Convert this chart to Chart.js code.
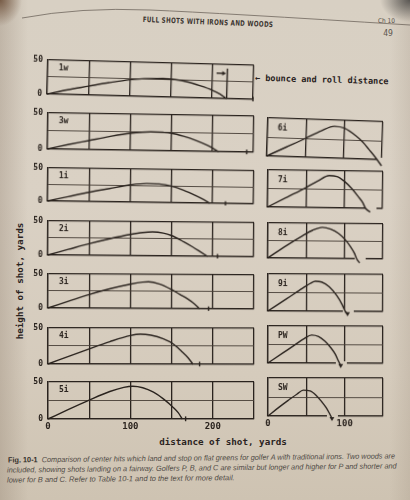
<!DOCTYPE html>
<html>
<head>
<meta charset="utf-8">
<title>Full shots with irons and woods</title>
<script src="https://cdn.jsdelivr.net/npm/chart.js@4.4.1/dist/chart.umd.min.js"></script>
<style>
  html, body { margin:0; padding:0; }
  body {
    width:410px; height:500px; overflow:hidden; position:relative;
    background:
      radial-gradient(ellipse 22px 26px at 0 0, rgba(95,62,38,.75), rgba(95,62,38,0)),
      radial-gradient(ellipse 30px 22px at 100% 0, rgba(70,68,66,.85), rgba(70,68,66,0)),
      linear-gradient(to right, rgba(130,112,95,.28), rgba(130,112,95,0) 28px),
      linear-gradient(to left, rgba(130,112,95,.15), rgba(130,112,95,0) 20px),
      linear-gradient(to bottom, #d8d0c3 0%, #dad1c4 40%, #d5cbbc 75%, #cec3b2 100%);
  }
  .panel { position:absolute; }
  .panel canvas { display:block; }
  .txt { position:absolute; white-space:nowrap; color:#2a231e; line-height:1; }
  .mono { font-family:"DejaVu Sans Mono", monospace; font-weight:bold; }
</style>
</head>
<body>
<svg width="410" height="40" style="position:absolute;left:0;top:0">
  <path d="M22 18 Q 80 7 150 10 T 410 25" fill="none" stroke="#6e665d" stroke-width="0.8"/>
</svg>

<div class="txt fit" data-w="131" data-tf="translate(-50%,-50%) rotate(2.3deg)"
     style="left:207.5px;top:21.5px;font:bold 7.5px 'DejaVu Sans Condensed',sans-serif;color:#3b3530;letter-spacing:0.4px">FULL SHOTS WITH IRONS AND WOODS</div>
<div class="txt fit" data-w="17" data-tf="translate(-50%,-50%)"
     style="left:386.5px;top:20.7px;font:6.5px 'DejaVu Sans Condensed',sans-serif;color:#5a534c">Ch 10</div>
<div class="txt fit" data-w="10" data-tf="translate(-50%,-50%)"
     style="left:388px;top:32.5px;font:8.5px 'DejaVu Sans Condensed',sans-serif;color:#5a534c">49</div>

<div class="txt mono fit" data-w="134" data-tf="translate(0,-50%) rotate(1.5deg)"
     style="left:255px;top:78px;font-size:8.6px;transform-origin:left center">&#8592; bounce and roll distance</div>
<div class="txt mono fit" data-w="117" data-tf="translate(-50%,-50%) rotate(-90deg)"
     style="left:19.5px;top:281px;font-size:9.3px">height of shot, yards</div>
<div class="txt mono fit" data-w="128" data-tf="translate(-50%,-50%)"
     style="left:223px;top:442px;font-size:9.3px">distance of shot, yards</div>

<div class="txt fit" data-w="387" data-tf="translate(0,-50%) rotate(-0.6deg)"
     style="left:8px;top:459.5px;font:italic 7.6px 'Liberation Sans',sans-serif;color:#4f4a45;transform-origin:left center"><b style="font-style:normal;color:#35302b">Fig. 10-1</b>&nbsp; Comparison of center hits which land and stop on flat greens for golfer A with traditional irons. Two woods are</div>
<div class="txt fit" data-w="390" data-tf="translate(0,-50%) rotate(-0.6deg)"
     style="left:6.5px;top:469.8px;font:italic 7.6px 'Liberation Sans',sans-serif;color:#4f4a45;transform-origin:left center">included, showing shots landing on a fairway. Golfers P, B, and C are similar but longer and higher for P and shorter and</div>
<div class="txt fit" data-w="228" data-tf="translate(0,-50%) rotate(-0.6deg)"
     style="left:7px;top:480.3px;font:italic 7.6px 'Liberation Sans',sans-serif;color:#4f4a45;transform-origin:left center">lower for B and C. Refer to Table 10-1 and to the text for more detail.</div>

<script>
const INK = '#2a231e';
const MID = '#463d36';
const MONO = '"DejaVu Sans Mono", monospace';

// Woods and long irons: distance 0–250 yd, height 0–50 yd. [distance, height]
const longClubs = ['1w', '3w', '1i', '2i', '3i', '4i', '5i'];
const flight1w = [[0,0],[25,7],[50,13],[75,19],[100,24],[125,26.5],[140,27],[155,26],[170,23],[185,18],[200,12],[210,6.5],[218,0]];
const flight3w = [[0,0],[25,6.5],[50,12.5],[75,18.5],[100,23.5],[125,26],[140,25.5],[150,24.5],[165,20.5],[180,15],[195,8],[208,0]];
const flight1i = [[0,0],[25,7],[50,14],[75,20],[100,26],[120,28.5],[135,28],[150,25],[165,19],[180,11],[190,5],[197,0]];
const flight2i = [[0,0],[25,8.5],[50,17],[75,24.5],[100,31],[115,34],[127,35],[140,33.5],[150,30],[165,21],[176,13.5],[186,6],[194,0]];
const flight3i = [[0,0],[25,10],[50,20],[75,28.5],[100,35.5],[115,38.5],[122,39],[135,36],[150,28],[160,21],[170,14],[178,7],[184,0]];
const flight4i = [[0,0],[25,10.5],[50,21],[75,31],[100,39.5],[112,41.5],[125,40],[140,35],[152,28],[162,18],[170,9],[176,0]];
const flight5i = [[0,0],[25,13],[50,25.5],[75,37],[92,42.5],[103,44],[115,42],[128,36],[140,27],[152,15.5],[158,8.5],[163,0]];
const longFlights = [flight1w, flight3w, flight1i, flight2i, flight3i, flight4i, flight5i];
// where each ball comes to rest, yd
const longRest = [250, 242, 216, 206, 195, 184, 167];
// driver: landing marker and the arrow pointing at it
const carryLine1w = [[218,0],[218,44]];
const carryArrow1w = [[205,37],[213.5,37]];

// Short irons and wedges: distance 0–150 yd
const shortClubs = ['6i', '7i', '8i', '9i', 'PW', 'SW'];
const flight6i = [[0,0],[25,12.5],[50,25],[70,35.5],[87,42],[100,40],[116,30],[125,22],[133,13],[140,5],[144,0],[150,-8]];
const flight7i = [[0,0],[25,13.5],[50,27],[65,36],[80,43.5],[90,42.5],[100,36],[110,26],[118,16],[124,8],[128,0],[134,-5]];
const flight8i = [[0,0],[25,18.5],[45,32],[58,40],[71,44.5],[82,42],[92,36],[101,27],[108,17],[113,8],[116,0],[120,-6]];
const flight9i = [[0,0],[25,17],[45,31],[55,37.5],[62,40.5],[70,39.5],[80,33],[90,21],[97,9],[101,0],[104,-3]];
const flightPW = [[0,0],[20,14],[35,24.5],[47,33],[57,38],[66,36],[74,30],[82,21],[88,12],[92,3],[93.5,0],[95,-3]];
const flightSW = [[0,0],[15,12],[27,21],[38,29],[46,34],[55,33],[63,27],[70,19],[76,11],[80,4],[82,0],[83.5,-3]];
const shortFlights = [flight6i, flight7i, flight8i, flight9i, flightPW, flightSW];

// axis labels
const heightLabels = [0, 50];
const longDistLabels = [0, 100, 200];
const shortDistLabels = [0, 100];

// panel placement
const longX = [48, 254], longTop = [57, 110, 165, 218, 271, 325, 379], longH = [37, 39, 36, 37, 37, 39, 40];
const longTilt = [1.5, 0.9, 0.8, 0.5, 0.3, 0.1, 0];
const shortX = [268, 383], shortTop = [118, 170, 223, 274, 326, 378], shortH = [38, 37, 35, 37, 37, 38];
const shortTilt = [1.9, 0.8, 0.5, 0.3, 0.2, 0.1];

const pts = a => a.map(([x, y]) => ({x, y}));

// club name in the upper-left corner of a panel, and a break in the
// baseline where the ball drops through it
const nameTag = {
  id: 'nameTag',
  beforeDatasetsDraw(chart, args, opts) {
    if (!opts.gapAt) return;
    const {ctx} = chart, xs = chart.scales.x, y0 = chart.scales.y.getPixelForValue(0);
    const l = xs.getPixelForValue(opts.gapAt - 6), r = xs.getPixelForValue(opts.gapAt + 8);
    ctx.clearRect(l, y0 - 2, r - l, 5);
  },
  afterDraw(chart, args, opts) {
    const {ctx, chartArea: a} = chart;
    ctx.save();
    ctx.font = 'bold 8px ' + MONO;
    ctx.fillStyle = INK;
    ctx.textBaseline = 'middle';
    ctx.fillText(opts.text, a.left + opts.dx, a.top + opts.dy);
    ctx.restore();
  }
};

function makePanel(o) {
  const padL = o.yLabels ? 30 : 6, padR = 6, padT = 7;
  const axisH = o.xLabels ? 14 : 0;
  const padB = 11 + axisH;
  const W = o.x1 - o.x0 + padL + padR, H = o.h + padT + padB;
  const box = document.createElement('div');
  box.className = 'panel';
  Object.assign(box.style, {
    left: (o.x0 - padL) + 'px', top: (o.y0 - padT) + 'px',
    width: W + 'px', height: H + 'px',
    transformOrigin: padL + 'px ' + padT + 'px',
    transform: 'rotate(' + o.tilt + 'deg)'
  });
  const cv = document.createElement('canvas');
  cv.width = W; cv.height = H;
  box.appendChild(cv);
  document.body.appendChild(box);
  new Chart(cv, {
    type: 'line',
    data: {datasets: o.datasets},
    options: {
      responsive: false, animation: false, devicePixelRatio: 1, events: [],
      layout: {padding: {left: o.yLabels ? 0 : padL, right: padR, top: padT, bottom: padB - axisH}},
      plugins: {
        legend: {display: false}, tooltip: {enabled: false},
        nameTag: {text: o.name, dx: o.tagDx, dy: o.tagDy, gapAt: o.gapAt}
      },
      elements: {
        line: {borderColor: INK, borderWidth: 1.4, cubicInterpolationMode: 'monotone', fill: false},
        point: {radius: 0, hoverRadius: 0}
      },
      scales: {
        x: {
          type: 'linear', min: 0, max: o.xMax,
          afterFit: s => { s.height = axisH; },
          ticks: {
            display: !!o.xLabels, stepSize: 50, autoSkip: false, maxRotation: 0, padding: 2,
            color: INK, font: {family: MONO, size: 9, weight: 'bold'},
            callback: v => (o.xLabels && o.xLabels.includes(v)) ? String(v) : ''
          },
          grid: {color: INK, lineWidth: 1.3, drawTicks: false},
          border: {color: INK, width: 1.3}
        },
        y: {
          type: 'linear', min: 0, max: 50,
          afterFit: s => { s.width = o.yLabels ? padL : 0; },
          ticks: {
            display: !!o.yLabels, stepSize: 25, padding: 5,
            color: INK, font: {family: MONO, size: 8, weight: 'bold'},
            callback: v => (o.yLabels && o.yLabels.includes(v)) ? String(v) : ''
          },
          grid: {
            color: c => (c.tick && c.tick.value === 25) ? MID : INK,
            lineWidth: c => (c.tick && c.tick.value === 25) ? 0.9 : 1.3,
            drawTicks: false
          },
          border: {color: INK, width: 1.3}
        }
      }
    },
    plugins: [nameTag]
  });
}

longClubs.forEach((name, i) => {
  const sets = [
    {data: pts(longFlights[i]), clip: false},
    {data: pts([[longRest[i], -3], [longRest[i], 3.5]]), clip: false, cubicInterpolationMode: 'default', tension: 0}
  ];
  if (name === '1w') {
    sets.push({data: pts(carryLine1w), clip: false, cubicInterpolationMode: 'default', tension: 0});
    sets.push({data: pts(carryArrow1w), clip: false, cubicInterpolationMode: 'default', tension: 0,
      pointRadius: [0, 2.6], pointStyle: 'triangle', pointRotation: 90,
      pointBackgroundColor: INK, pointBorderColor: INK, pointBorderWidth: 0});
  }
  makePanel({
    name, datasets: sets, x0: longX[0], x1: longX[1], y0: longTop[i], h: longH[i], tilt: longTilt[i],
    xMax: 250, yLabels: heightLabels, xLabels: i === longClubs.length - 1 ? longDistLabels : null,
    tagDx: 11, tagDy: 8
  });
});

shortClubs.forEach((name, i) => {
  const f = shortFlights[i];
  makePanel({
    name,
    datasets: [{
      data: pts(f), clip: false,
      pointRadius: f.map((_, k) => k === f.length - 1 ? 2.8 : 0),
      pointStyle: 'triangle', pointRotation: 180,
      pointBackgroundColor: INK, pointBorderColor: INK, pointBorderWidth: 0
    }],
    x0: shortX[0], x1: shortX[1], y0: shortTop[i], h: shortH[i], tilt: shortTilt[i],
    xMax: 150, yLabels: null, xLabels: i === shortClubs.length - 1 ? shortDistLabels : null,
    tagDx: 10, tagDy: 10, gapAt: f[f.length - 1][0]
  });
});

// stretch each text line to its printed width
document.querySelectorAll('.fit').forEach(el => {
  const w = el.offsetWidth;
  const s = w ? (+el.dataset.w / w) : 1;
  el.style.transform = el.dataset.tf + ' scaleX(' + s.toFixed(3) + ')';
});
</script>
</body>
</html>
